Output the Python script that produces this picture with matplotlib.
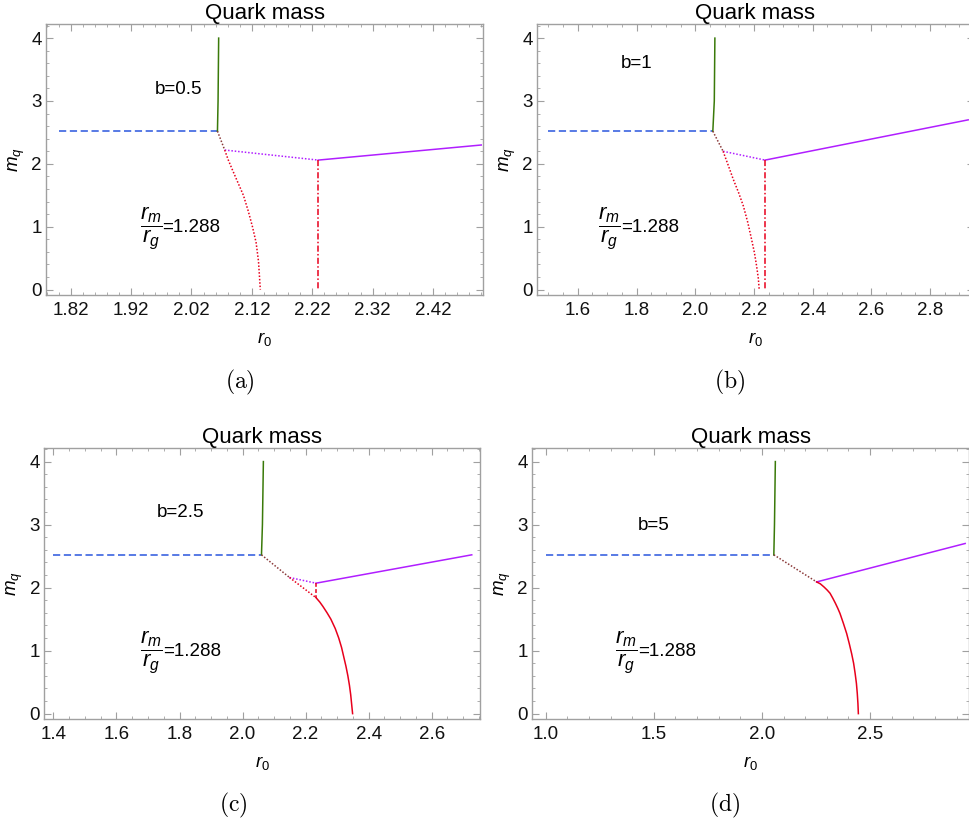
import matplotlib
matplotlib.use('Agg')
import matplotlib.pyplot as plt
from matplotlib.ticker import MultipleLocator

plt.rcParams['font.family'] = 'Liberation Sans'
plt.rcParams['mathtext.fontset'] = 'custom'
plt.rcParams['mathtext.rm'] = 'Liberation Sans'
plt.rcParams['mathtext.it'] = 'Liberation Sans:italic'

# Colours ---------------------------------------------------------------
BLUE = '#4a6fe3'
GREEN = '#3a7a0a'
BROWN = '#8b3a3a'
PURPLE = '#b01eff'
RED = '#e8001c'
FRAME = '#a0a0a0'

# Panel (a), b = 0.5 ----------------------------------------------------
a_blue_x, a_blue_y = [1.80, 2.063], [2.52, 2.52]
a_green_x, a_green_y = [2.063, 2.064, 2.065], [2.52, 3.0, 4.0]
a_brown_x, a_brown_y = [2.063, 2.075], [2.52, 2.22]
a_pdot_x, a_pdot_y = [2.075, 2.23], [2.22, 2.06]
a_purple_x, a_purple_y = [2.23, 2.50], [2.06, 2.30]
a_rdot_x = [2.075, 2.081, 2.088, 2.097, 2.106, 2.114, 2.121, 2.127, 2.131, 2.134]
a_rdot_y = [2.22, 2.06, 1.90, 1.70, 1.50, 1.25, 1.00, 0.75, 0.45, 0.00]
a_rdd_x, a_rdd_y = [2.23, 2.23], [2.06, 0.0]
a_ticks = [1.82, 1.92, 2.02, 2.12, 2.22, 2.32, 2.42]
a_labels = ['1.82', '1.92', '2.02', '2.12', '2.22', '2.32', '2.42']

# Panel (b), b = 1 ------------------------------------------------------
b_blue_x, b_blue_y = [1.50, 2.06], [2.52, 2.52]
b_green_x, b_green_y = [2.06, 2.065, 2.067], [2.52, 3.0, 4.0]
b_brown_x, b_brown_y = [2.06, 2.095], [2.52, 2.20]
b_pdot_x, b_pdot_y = [2.095, 2.238], [2.20, 2.06]
b_purple_x, b_purple_y = [2.238, 2.93], [2.06, 2.70]
b_rdot_x = [2.095, 2.113, 2.130, 2.148, 2.164, 2.179, 2.192, 2.202, 2.209, 2.215, 2.218]
b_rdot_y = [2.20, 1.97, 1.75, 1.54, 1.33, 1.07, 0.80, 0.58, 0.38, 0.18, 0.00]
b_rdd_x, b_rdd_y = [2.238, 2.238], [2.06, 0.0]
b_ticks = [1.6, 1.8, 2.0, 2.2, 2.4, 2.6, 2.8]
b_labels = ['1.6', '1.8', '2.0', '2.2', '2.4', '2.6', '2.8']

# Panel (c), b = 2.5 ----------------------------------------------------
c_blue_x, c_blue_y = [1.40, 2.06], [2.52, 2.52]
c_green_x, c_green_y = [2.06, 2.063, 2.066], [2.52, 3.0, 4.0]
c_brown_x, c_brown_y = [2.06, 2.149], [2.52, 2.16]
c_pdot_x, c_pdot_y = [2.149, 2.233], [2.16, 2.07]
c_purple_x, c_purple_y = [2.233, 2.727], [2.07, 2.52]
c_rdot_x, c_rdot_y = [2.149, 2.233], [2.16, 1.84]
c_rdash_x, c_rdash_y = [2.233, 2.233], [2.07, 1.84]
c_red_x = [2.233, 2.245, 2.255, 2.268, 2.280, 2.294, 2.305, 2.314,
           2.321, 2.328, 2.334, 2.339, 2.343, 2.346, 2.349]
c_red_y = [1.84, 1.77, 1.70, 1.60, 1.50, 1.35, 1.20, 1.05,
           0.90, 0.75, 0.60, 0.45, 0.30, 0.15, 0.00]
c_ticks = [1.4, 1.6, 1.8, 2.0, 2.2, 2.4, 2.6]
c_labels = ['1.4', '1.6', '1.8', '2.0', '2.2', '2.4', '2.6']

# Panel (d), b = 5 ------------------------------------------------------
d_blue_x, d_blue_y = [1.00, 2.055], [2.52, 2.52]
d_green_x, d_green_y = [2.055, 2.058, 2.062], [2.52, 3.0, 4.0]
d_brown_x, d_brown_y = [2.055, 2.253], [2.52, 2.09]
d_purple_x, d_purple_y = [2.253, 2.94], [2.09, 2.70]
d_red_x = [2.253, 2.270, 2.287, 2.302, 2.315, 2.328, 2.340, 2.351, 2.361,
           2.377, 2.392, 2.404, 2.415, 2.424, 2.431, 2.437, 2.441, 2.444, 2.446]
d_red_y = [2.09, 2.06, 2.01, 1.96, 1.91, 1.83, 1.75, 1.67, 1.59,
           1.43, 1.27, 1.11, 0.95, 0.80, 0.64, 0.48, 0.32, 0.16, 0.00]
d_ticks = [1.0, 1.5, 2.0, 2.5]
d_labels = ['1.0', '1.5', '2.0', '2.5']

y_ticks = [0, 1, 2, 3, 4]
y_labels = ['0', '1', '2', '3', '4']


def frame(ax, xlim, ticks, labels, minor):
    ax.set_xlim(*xlim)
    ax.set_ylim(-0.085, 4.22)
    ax.set_xticks(ticks)
    ax.set_xticklabels(labels)
    ax.set_yticks(y_ticks)
    ax.set_yticklabels(y_labels)
    ax.xaxis.set_minor_locator(MultipleLocator(minor))
    ax.yaxis.set_minor_locator(MultipleLocator(0.2))
    for s in ax.spines.values():
        s.set_color(FRAME)
        s.set_linewidth(1.0)
    ax.tick_params(which='both', direction='in', top=True, right=True,
                   color=FRAME, labelsize=13.5, labelcolor='#111111')
    ax.tick_params(which='major', length=5, width=0.8)
    ax.tick_params(which='minor', length=2.5, width=0.6)
    ax.tick_params(axis='x', pad=5)
    ax.tick_params(axis='y', pad=3)
    ax.set_title('Quark mass', fontsize=16, pad=2)
    ax.set_xlabel(r'$r_0$', fontsize=13.5, labelpad=8)
    ax.set_ylabel(r'$m_q$', fontsize=13.5, labelpad=3)


fig = plt.figure(figsize=(9.69, 8.23), dpi=100)
ax_a = fig.add_axes([0.0475, 0.6416, 0.4510, 0.3289])
ax_b = fig.add_axes([0.5539, 0.6416, 0.4513, 0.3289])
ax_c = fig.add_axes([0.0457, 0.1264, 0.4496, 0.3296])
ax_d = fig.add_axes([0.5487, 0.1264, 0.4518, 0.3296])

frame(ax_a, (1.779, 2.503), a_ticks, a_labels, 0.02)
frame(ax_b, (1.46, 2.95), b_ticks, b_labels, 0.05)
frame(ax_c, (1.371, 2.753), c_ticks, c_labels, 0.05)
frame(ax_d, (0.935, 2.96), d_ticks, d_labels, 0.1)

lw = 1.1
dot = (0, (1, 1.2))
dashdot = (0, (4, 1.5, 1, 1.5))
blue_dash = (0, (4, 2))

# (a)
ax_a.plot(a_blue_x, a_blue_y, color=BLUE, lw=1.3, ls=blue_dash)
ax_a.plot(a_green_x, a_green_y, color=GREEN, lw=lw)
ax_a.plot(a_brown_x, a_brown_y, color=BROWN, lw=lw, ls=dot)
ax_a.plot(a_pdot_x, a_pdot_y, color=PURPLE, lw=lw, ls=dot)
ax_a.plot(a_purple_x, a_purple_y, color=PURPLE, lw=lw)
ax_a.plot(a_rdot_x, a_rdot_y, color=RED, lw=lw, ls=dot)
ax_a.plot(a_rdd_x, a_rdd_y, color=RED, lw=lw, ls=dashdot)

# (b)
ax_b.plot(b_blue_x, b_blue_y, color=BLUE, lw=1.3, ls=blue_dash)
ax_b.plot(b_green_x, b_green_y, color=GREEN, lw=lw)
ax_b.plot(b_brown_x, b_brown_y, color=BROWN, lw=lw, ls=dot)
ax_b.plot(b_pdot_x, b_pdot_y, color=PURPLE, lw=lw, ls=dot)
ax_b.plot(b_purple_x, b_purple_y, color=PURPLE, lw=lw)
ax_b.plot(b_rdot_x, b_rdot_y, color=RED, lw=lw, ls=dot)
ax_b.plot(b_rdd_x, b_rdd_y, color=RED, lw=lw, ls=dashdot)

# (c)
ax_c.plot(c_blue_x, c_blue_y, color=BLUE, lw=1.3, ls=blue_dash)
ax_c.plot(c_green_x, c_green_y, color=GREEN, lw=lw)
ax_c.plot(c_brown_x, c_brown_y, color=BROWN, lw=lw, ls=dot)
ax_c.plot(c_pdot_x, c_pdot_y, color=PURPLE, lw=lw, ls=dot)
ax_c.plot(c_purple_x, c_purple_y, color=PURPLE, lw=lw)
ax_c.plot(c_rdot_x, c_rdot_y, color=RED, lw=lw, ls=dot)
ax_c.plot(c_rdash_x, c_rdash_y, color=RED, lw=lw, ls=(0, (2.5, 1.5)))
ax_c.plot(c_red_x, c_red_y, color=RED, lw=lw)

# (d)
ax_d.plot(d_blue_x, d_blue_y, color=BLUE, lw=1.3, ls=blue_dash)
ax_d.plot(d_green_x, d_green_y, color=GREEN, lw=lw)
ax_d.plot(d_brown_x, d_brown_y, color=BROWN, lw=lw, ls=dot)
ax_d.plot(d_purple_x, d_purple_y, color=PURPLE, lw=lw)
ax_d.plot(d_red_x, d_red_y, color=RED, lw=lw)

# Annotations -----------------------------------------------------------
for ax, bx, by, txt, fx in [(ax_a, 1.999, 3.18, 'b=0.5', 1.934),
                            (ax_b, 1.799, 3.59, 'b=1', 1.670),
                            (ax_c, 1.802, 3.19, 'b=2.5', 1.675),
                            (ax_d, 1.498, 2.99, 'b=5', 1.320)]:
    ax.text(bx, by, txt, fontsize=13.5, ha='center', va='center')
    ft = ax.text(fx, 0.98, r'$\dfrac{r_m}{r_g}$', fontsize=16,
                 ha='left', va='center')
    ax.annotate('=1.288', xy=(1.0, 0.5), xycoords=ft, fontsize=13.5,
                ha='left', va='center')

# Captions --------------------------------------------------------------
for x, y, s in [(240, 382, '(a)'), (730, 382, '(b)'),
                (233, 805, '(c)'), (725, 805, '(d)')]:
    fig.text(x / 969, 1 - y / 823, r'$\mathrm{' + s + '}$', fontsize=17,
             ha='center', va='center', math_fontfamily='cm')

fig.savefig('out.png', dpi=100)
